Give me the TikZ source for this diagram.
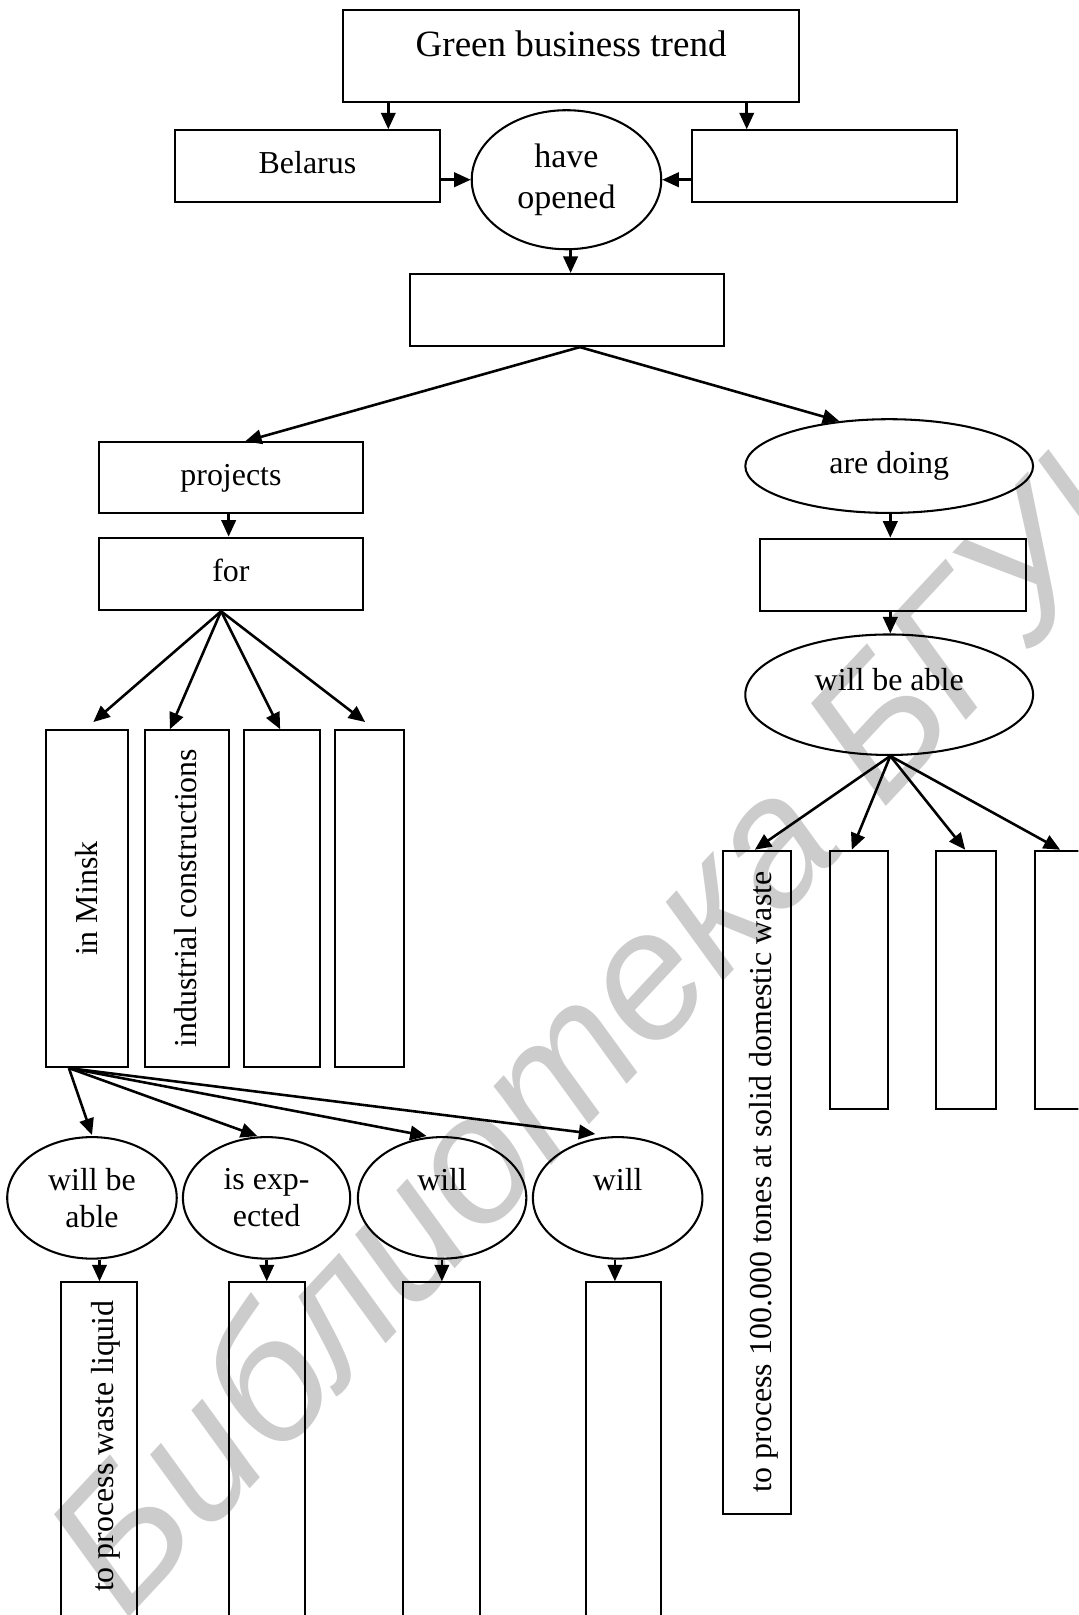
\documentclass[tikz,border=0pt]{standalone}
\usepackage{fontspec}
\setmainfont{Liberation Serif}
\newfontfamily\wmfont{Liberation Sans}
\usetikzlibrary{arrows.meta,shapes.geometric,calc}
\begin{document}
\begin{tikzpicture}[x=0.5pt,y=-0.5pt,
  box/.style={draw, line width=1pt, rectangle, inner sep=0pt},
  oval/.style={draw, line width=1pt, ellipse, inner sep=0pt},
  txt/.style={font=\fontsize{15.5pt}{18pt}\selectfont, text height=10.8pt, text depth=3.4pt},
  twoline/.style={align=center, font=\fontsize{15.5pt}{17.8pt}\selectfont},
  arr/.style={line width=1.25pt, -{Triangle[length=8pt,width=7pt]}},
  vtxt/.style={rotate=90, anchor=base, inner sep=0pt, font=\fontsize{15.5pt}{18pt}\selectfont},
  wm/.style={rotate=47, anchor=base west, inner sep=0pt, text=black!20,
     font=\wmfont\itshape\fontsize{88pt}{106pt}\selectfont}
]
\useasboundingbox (0,0) rectangle (1047,1568);
\clip (0,0) rectangle (1047,1568);

% watermark
\node[wm] (wmark) at (122,1575) {Библиотека БГУИР};

% top part
\node[box, minimum width=221.5pt, minimum height=44.5pt,
      font=\fontsize{18pt}{21pt}\selectfont, text height=8pt, text depth=8pt]
      (top) at (554.5,54.5) {Green business trend};
\node[box, txt, minimum width=128.5pt, minimum height=34.75pt] (bel) at (298.5,161.25) {Belarus};
\node[box, minimum width=128.5pt, minimum height=34.75pt] (rb1) at (800.5,161.25) {};
\node[oval, minimum width=92pt, minimum height=67.5pt, align=center,
      font=\fontsize{16.5pt}{20pt}\selectfont] (op) at (550,174.5) {have\\opened};
\node[box, minimum width=152pt, minimum height=35pt] (b2) at (550.5,301) {};

% left branch
\node[box, txt, minimum width=128.25pt, minimum height=34.5pt] (proj) at (224.25,464) {projects};
\node[box, txt, minimum width=128.25pt, minimum height=35.25pt] (forb) at (224.25,557.25) {for};
\node[box, minimum width=39.75pt, minimum height=163.5pt] (m1) at (84.25,872.5) {};
\node[box, minimum width=40.85pt, minimum height=163.5pt] (m2) at (181.35,872.5) {};
\node[box, minimum width=37.05pt, minimum height=163.5pt] (m3) at (273.75,872.5) {};
\node[box, minimum width=33.5pt, minimum height=163.5pt] (m4) at (358.5,872.5) {};
\node[vtxt] (m1t) at (94.5,872.5) {in Minsk};
\node[vtxt] (m2t) at (191,872) {industrial constructions};

\node[oval, twoline, minimum width=82.3pt, minimum height=59pt] (e1) at (89.3,1163) {will be\\able};
\node[oval, twoline, minimum width=81.2pt, minimum height=59pt] (e2) at (258.8,1163) {is exp-\\ected};
\node[oval, twoline, minimum width=81.75pt, minimum height=59pt] (e3) at (429.25,1163) {will\\\phantom{able}};
\node[oval, twoline, minimum width=82.3pt, minimum height=59pt] (e4) at (599.7,1163) {will\\\phantom{able}};

\node[box, minimum width=36.75pt, minimum height=177.5pt] (p1) at (96.25,1422.5) {};
\node[box, minimum width=37pt, minimum height=177.5pt] (p2) at (259,1422.5) {};
\node[box, minimum width=37.15pt, minimum height=177.5pt] (p3) at (428.55,1422.5) {};
\node[box, minimum width=36.65pt, minimum height=177.5pt] (p4) at (605.35,1422.5) {};
\node[vtxt] (p1t) at (110,1404) {to process waste liquid};

% right branch
\node[oval, txt, minimum width=139.7pt, minimum height=45.5pt] (ad) at (863.3,452.5) {are doing};
\node[box, minimum width=129pt, minimum height=35pt] (rb2) at (867,558) {};
\node[oval, font=\fontsize{15.5pt}{18pt}\selectfont, text height=10.8pt, text depth=14.8pt,
      minimum width=139.7pt, minimum height=58.5pt] (wba) at (863.3,674.5) {will be able};
\node[box, minimum width=33.35pt, minimum height=321.75pt] (t1) at (734.85,1147.75) {};
\node[box, minimum width=28.5pt, minimum height=125.5pt] (t2) at (834,951.5) {};
\node[box, minimum width=29.3pt, minimum height=125.5pt] (t3) at (938.1,951.5) {};
\node[box, minimum width=30.7pt, minimum height=125.5pt] (t4) at (1035.3,951.5) {};
\node[vtxt] (t1t) at (749.5,1147.5) {to process 100.000 tones at solid domestic waste};

% connectors top
\draw[arr] (377,0 |- top.south) -- (377,0 |- bel.north);
\draw[arr] (725,0 |- top.south) -- (725,0 |- rb1.north);
\draw[arr] (bel.east |- op.west) -- (op.west);
\draw[arr] (rb1.west |- op.east) -- (op.east);
\draw[arr] (554,0 |- op.south) -- (554,0 |- b2.north);
\coordinate (b2a) at ($(b2.south)+(12.5,0)$);
\draw[arr] (b2a) -- ($(proj.north)+(13.75,0)$);
\draw[arr] (b2a) -- (ad.138);

% connectors left
\draw[arr] (222,0 |- proj.south) -- (222,0 |- forb.north);
\coordinate (fa) at ($(forb.south)+(-9.6,0)$);
\draw[arr] (fa) -- ($(m1.north)+(6.35,-7)$);
\draw[arr] (fa) -- ($(m2.north)+(-16.35,0)$);
\draw[arr] (fa) -- ($(m3.north)+(-1.75,0)$);
\draw[arr] (fa) -- ($(m4.north)+(-4,-7)$);
\coordinate (ma) at ($(m1.south)+(-17.35,0)$);
\draw[arr] (ma) -- ($(e1.north)+(0,-1)$);
\draw[arr] (ma) -- ($(e2.north)+(-9,0)$);
\draw[arr] (ma) -- ($(e3.north)+(-15,0)$);
\draw[arr] (ma) -- ($(e4.north)+(-21.7,-2)$);
\draw[arr] (96.6,0 |- e1.south) -- (96.6,0 |- p1.north);
\draw[arr] (259,0 |- e2.south) -- (259,0 |- p2.north);
\draw[arr] (429,0 |- e3.south) -- (429,0 |- p3.north);
\draw[arr] (597,0 |- e4.south) -- (597,0 |- p4.north);

% connectors right
\draw[arr] (864.4,0 |- ad.south) -- (864.4,0 |- rb2.north);
\draw[arr] (864.4,0 |- rb2.south) -- (864.4,0 |- wba.north);
\coordinate (wa) at (864.4,0 |- wba.south);
\draw[arr] (wa) -- ($(t1.north)+(-2,0)$);
\draw[arr] (wa) -- ($(t2.north)+(-7,0)$);
\draw[arr] (wa) -- ($(t3.north)+(-1,0)$);
\draw[arr] (wa) -- ($(t4.north)+(-6,0)$);
\end{tikzpicture}
\end{document}
